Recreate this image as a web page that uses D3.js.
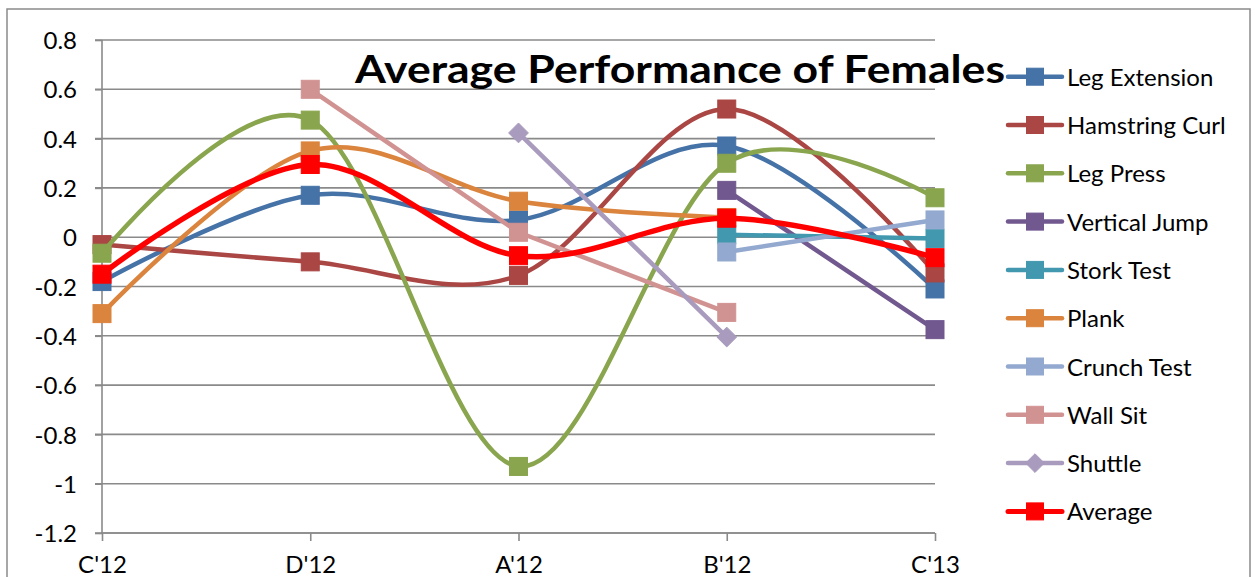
<!DOCTYPE html>
<html>
<head>
<meta charset="utf-8">
<script src="https://cdn.jsdelivr.net/npm/d3@7"></script>
<style>
  html, body { margin: 0; padding: 0; background: #fff; }
  svg { display: block; }
  text { font-family: Lato, "Open Sans", sans-serif; fill: #000; }
</style>
</head>
<body>
<svg id="chart" width="1255" height="577"></svg>
<script>
// ---- data ----
const categories = ["C'12", "D'12", "A'12", "B'12", "C'13"];
const yTicks = [0.8, 0.6, 0.4, 0.2, 0, -0.2, -0.4, -0.6, -0.8, -1, -1.2];
const titleText = "Average Performance of Females";

const legExtension  = [-0.18, 0.17, 0.07, 0.37, -0.21];
const hamstringCurl = [-0.03, -0.10, -0.155, 0.52, -0.145];
const legPress      = [-0.065, 0.475, -0.93, 0.30, 0.16];
const verticalJump  = [null, null, null, 0.19, -0.375];
const storkTest     = [null, null, null, 0.01, -0.005];
const plank         = [-0.31, 0.35, 0.146, 0.08, null];
const crunchTest    = [null, null, null, -0.06, 0.07];
const wallSit       = [null, 0.60, 0.02, -0.305, null];
const shuttle       = [null, null, 0.423, -0.405, null];
const average       = [-0.15, 0.295, -0.075, 0.077, -0.083];

const seriesNames  = ["Leg Extension","Hamstring Curl","Leg Press","Vertical Jump","Stork Test","Plank","Crunch Test","Wall Sit","Shuttle","Average"];
const seriesValues = [legExtension, hamstringCurl, legPress, verticalJump, storkTest, plank, crunchTest, wallSit, shuttle, average];
const seriesColors = ["#4572A7","#AA4643","#89A54E","#71588F","#4198AF","#DB843D","#93A9CF","#D19392","#A99BBD","#FF0000"];
const seriesSmooth = [true, true, true, false, false, true, false, false, false, true];
const seriesMarker = ["square","square","square","square","square","square","square","square","diamond","square"];

// ---- layout ----
const svg = d3.select("#chart");
const plotL = 102, plotR = 935, plotT = 40, plotB = 533;
const x = d3.scalePoint().domain(categories).range([plotL, plotR]);
const y = d3.scaleLinear().domain([-1.2, 0.8]).range([plotB, plotT]);
const gridColor = "#8a8a8a";

// outer frame
svg.append("rect").attr("x", 7).attr("y", 9).attr("width", 1243).attr("height", 600)
  .attr("fill", "#fff").attr("stroke", "#8a8a8a").attr("stroke-width", 1.5);

// gridlines
svg.append("g").selectAll("line").data(yTicks).join("line")
  .attr("x1", plotL - 7).attr("x2", plotR)
  .attr("y1", d => y(d)).attr("y2", d => y(d))
  .attr("stroke", gridColor).attr("stroke-width", 1.6);

// y axis
const yAxis = d3.axisLeft(y).tickValues(yTicks).tickSize(7).tickPadding(18)
  .tickFormat(d => String(+d.toFixed(1)));
const gy = svg.append("g").attr("transform", `translate(${plotL},0)`).call(yAxis);
gy.select(".domain").attr("stroke", gridColor).attr("stroke-width", 1.6).attr("d", `M0,${plotT}V${plotB}`);
gy.selectAll(".tick line").attr("stroke", gridColor).attr("stroke-width", 1.6);
gy.selectAll(".tick text").attr("font-size", 24).attr("font-family", "Lato, sans-serif")
  .attr("dy", "0.36em").attr("fill", "#000");

// x axis
const xAxis = d3.axisBottom(x).tickSize(8).tickPadding(15);
const gx = svg.append("g").attr("transform", `translate(0,${plotB})`).call(xAxis);
gx.select(".domain").attr("stroke", gridColor).attr("stroke-width", 1.6).attr("d", `M${plotL},0H${plotR}`);
gx.selectAll(".tick line").attr("stroke", gridColor).attr("stroke-width", 1.6);
gx.selectAll(".tick text").attr("font-size", 24).attr("font-family", "Lato, sans-serif")
  .attr("dy", "0.71em").attr("fill", "#000");

// title
svg.append("text").attr("x", 355).attr("y", 83)
  .attr("font-size", 39).attr("font-weight", "bold")
  .attr("textLength", 650).attr("lengthAdjust", "spacingAndGlyphs")
  .text(titleText);

// series
const markerSize = 18;
function drawMarker(g, type, cx, cy, color, size) {
  if (type === "diamond") {
    const h = size * 0.55;
    g.append("path").attr("d", `M${cx},${cy - h}L${cx + h},${cy}L${cx},${cy + h}L${cx - h},${cy}Z`)
      .attr("fill", color).attr("stroke", color).attr("stroke-width", 1);
  } else {
    g.append("rect").attr("x", cx - size / 2).attr("y", cy - size / 2)
      .attr("width", size).attr("height", size)
      .attr("fill", color).attr("stroke", color).attr("stroke-width", 1);
  }
}

const plot = svg.append("g");
seriesValues.forEach((vals, i) => {
  const pts = categories.map((c, j) => ({ c, v: vals[j] }));
  const line = d3.line()
    .defined(d => d.v !== null)
    .x(d => x(d.c)).y(d => y(d.v))
    .curve(seriesSmooth[i] ? d3.curveCardinal.tension(0) : d3.curveLinear);
  const g = plot.append("g");
  g.append("path").attr("d", line(pts)).attr("fill", "none")
    .attr("stroke", seriesColors[i])
    .attr("stroke-width", i === 9 ? 5.5 : 4.5)
    .attr("stroke-linejoin", "round").attr("stroke-linecap", "round");
  pts.filter(d => d.v !== null).forEach(d => {
    drawMarker(g, seriesMarker[i], x(d.c), y(d.v), seriesColors[i], markerSize);
  });
});

// legend
const legend = svg.append("g");
const legTop = 76.7, legStep = 48.3;
seriesNames.forEach((name, i) => {
  const cy = legTop + i * legStep;
  const g = legend.append("g");
  g.append("line").attr("x1", 1008).attr("x2", 1062).attr("y1", cy).attr("y2", cy)
    .attr("stroke", seriesColors[i]).attr("stroke-width", i === 9 ? 5 : 4.5)
    .attr("stroke-linecap", "round");
  drawMarker(g, seriesMarker[i], 1035, cy, seriesColors[i], 17);
  g.append("text").attr("x", 1067).attr("y", cy + 9).attr("font-size", 24).text(name);
});
</script>
</body>
</html>
